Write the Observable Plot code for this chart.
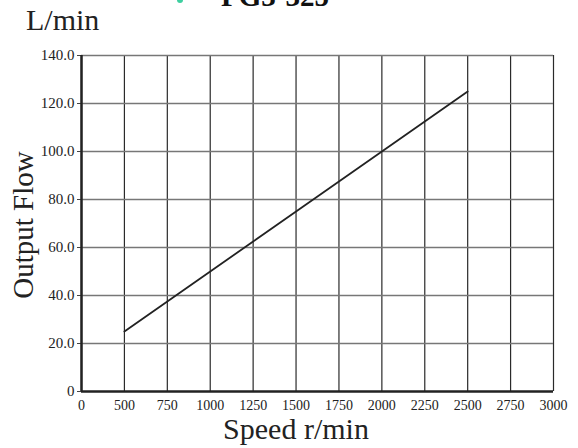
<!DOCTYPE html>
<html><head><meta charset="utf-8">
<script src="https://cdn.jsdelivr.net/npm/d3@7"></script>
<script src="https://cdn.jsdelivr.net/npm/@observablehq/plot@0.6"></script>
<style>
body{margin:0;background:#fff;}
#wrap{position:relative;width:578px;height:448px;overflow:hidden;font-family:"Liberation Serif",serif;color:#222;}
</style>
</head><body><div id="wrap"></div>
<script>
const title = "PG3-325";
const yUnit = "L/min";
const yLabel = "Output Flow";
const xLabel = "Speed r/min";
const xTicks = ["0","500","750","1000","1250","1500","1750","2000","2250","2500","2750","3000"];
const yTicks = [0,20,40,60,80,100,120,140];
const speeds = ["500","750","1000","1250","1500","1750","2000","2250","2500"];
const flows = [25,37.5,50,62.5,75,87.5,100,112.5,125];

const data = speeds.map((s,i)=>({speed:s, flow:flows[i]}));
const FONT = "Liberation Serif, serif";

const chart = Plot.plot({
  width:578, height:448,
  marginLeft:81, marginRight:25, marginTop:55, marginBottom:57,
  style:{fontFamily:FONT, color:"#222", background:"#fff"},
  x:{type:"point", domain:xTicks, padding:0, round:false, label:null},
  y:{domain:[0,140], label:null},
  marks:[
    Plot.gridX(xTicks, {stroke:"#2a2a2a", strokeOpacity:1, strokeWidth:1.2}),
    Plot.gridY(yTicks.filter(d=>d>0), {stroke:"#777", strokeOpacity:1, strokeWidth:1.6}),
    Plot.axisX(xTicks, {tickSize:0, tickPadding:9, fontSize:14, fill:"#222", className:"xax"}),
    Plot.axisY(yTicks, {tickSize:4, tickPadding:3, fontSize:15, fill:"#222", stroke:"#444", className:"yax",
      tickFormat:d=> d===0 ? "0" : d.toFixed(1)}),
    Plot.ruleY([0], {stroke:"#222", strokeWidth:2.5}),
    Plot.ruleX(["0"], {stroke:"#222", strokeWidth:2.5}),
    Plot.line(data, {x:"speed", y:"flow", stroke:"#222", strokeWidth:1.8})
  ]
});
document.getElementById("wrap").appendChild(chart);
const svg = d3.select(chart);
svg.selectAll("text").attr("font-family", FONT).style("font-family", FONT);
svg.append("circle").attr("cx",180).attr("cy",0).attr("r",3).attr("fill","#3ecfa0");
function addText(x,y,size,txt,anchor,extra){
  const t = svg.append("text").attr("x",x).attr("y",y).attr("font-size",size)
    .attr("font-family",FONT).style("font-family",FONT).attr("fill","#222")
    .attr("text-anchor",anchor).text(txt);
  if (extra) extra(t);
  return t;
}
addText(221,6,29,title,"start",t=>t.attr("font-weight","bold").attr("fill","#111"));
addText(26,30,30,yUnit,"start");
svg.append("text").attr("transform","translate(33,225) rotate(-90)").attr("text-anchor","middle")
  .attr("font-size",29).attr("font-family",FONT).style("font-family",FONT).attr("fill","#222").text(yLabel);
addText(296,439,30,xLabel,"middle");
</script>
</body></html>
